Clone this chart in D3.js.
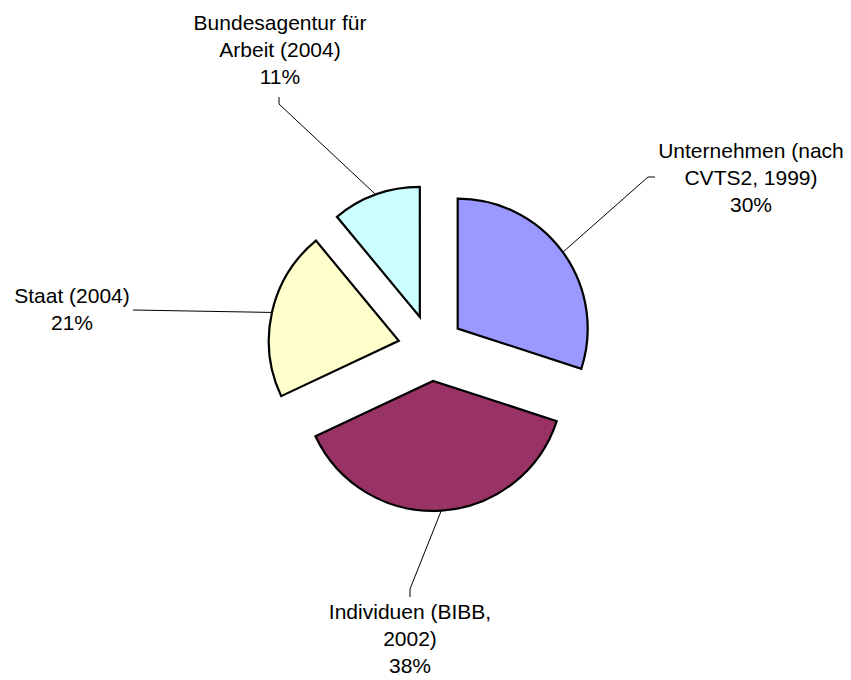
<!DOCTYPE html>
<html>
<head>
<meta charset="utf-8">
<script src="https://cdn.jsdelivr.net/npm/d3@7"></script>
<style>
  body { margin: 0; background: #fff; }
  svg { display: block; }
  text { font-family: "Liberation Sans", Arial, sans-serif; font-size: 21px; fill: #000; }
</style>
</head>
<body>
<svg width="851" height="680"></svg>
<script>
// data
var categories = ["Unternehmen (nach CVTS2, 1999)", "Individuen (BIBB, 2002)", "Staat (2004)", "Bundesagentur für Arbeit (2004)"];
var labelLines = [
  ["Unternehmen (nach", "CVTS2, 1999)"],
  ["Individuen (BIBB,", "2002)"],
  ["Staat (2004)"],
  ["Bundesagentur für", "Arbeit (2004)"]
];
var values = [30, 38, 21, 11];
var colors = ["#9999ff", "#993366", "#ffffcc", "#ccffff"];

// layout
var cx = 431, cy = 348;
var radius = 130;
var explode = 33;
var lineGap = 27;
// label block: centre x, baseline of first line
var labelAt = [[751, 158], [410, 619], [72, 303], [280, 30]];
// leader line start and elbow
var leaderFrom = [[655, 177], [410, 597], [133, 310], [279, 97]];
var leaderElbow = [[648, 177], [410, 589], [133, 310], [279, 104]];

var svg = d3.select("svg");

var pie = d3.pie()
  .value(function(d) { return d; })
  .sort(null);

var arcs = pie(values);

var arc = d3.arc()
  .innerRadius(0)
  .outerRadius(radius);

function midAngle(d) {
  return (d.startAngle + d.endAngle) / 2;
}

var g = svg.append("g")
  .attr("transform", "translate(" + cx + "," + cy + ")");

var slice = g.selectAll("g.slice")
  .data(arcs)
  .enter().append("g")
  .attr("class", "slice")
  .attr("transform", function(d) {
    var a = midAngle(d);
    return "translate(" + (Math.sin(a) * explode) + "," + (-Math.cos(a) * explode) + ")";
  });

slice.append("path")
  .attr("d", arc)
  .attr("fill", function(d, i) { return colors[i]; })
  .attr("stroke", "#000")
  .attr("stroke-width", 2.2)
  .attr("stroke-linejoin", "miter");

// leader lines, ending on the middle of each arc
svg.selectAll("polyline.leader")
  .data(arcs)
  .enter().append("polyline")
  .attr("class", "leader")
  .attr("points", function(d, i) {
    var a = midAngle(d);
    var ex = cx + Math.sin(a) * (explode + radius);
    var ey = cy - Math.cos(a) * (explode + radius);
    return [leaderFrom[i], leaderElbow[i], [ex, ey]].map(function(p) { return p.join(","); }).join(" ");
  })
  .attr("fill", "none")
  .attr("stroke", "#000")
  .attr("stroke-width", 1);

// labels
var fmt = d3.format(".0f");
var labels = svg.selectAll("text.label")
  .data(arcs)
  .enter().append("text")
  .attr("class", "label")
  .attr("text-anchor", "middle");

labels.each(function(d, i) {
  var t = d3.select(this);
  var lines = labelLines[i].concat([fmt(d.value) + "%"]);
  lines.forEach(function(s, j) {
    t.append("tspan")
      .attr("x", labelAt[i][0])
      .attr("y", labelAt[i][1] + j * lineGap)
      .text(s);
  });
});
</script>
</body>
</html>
